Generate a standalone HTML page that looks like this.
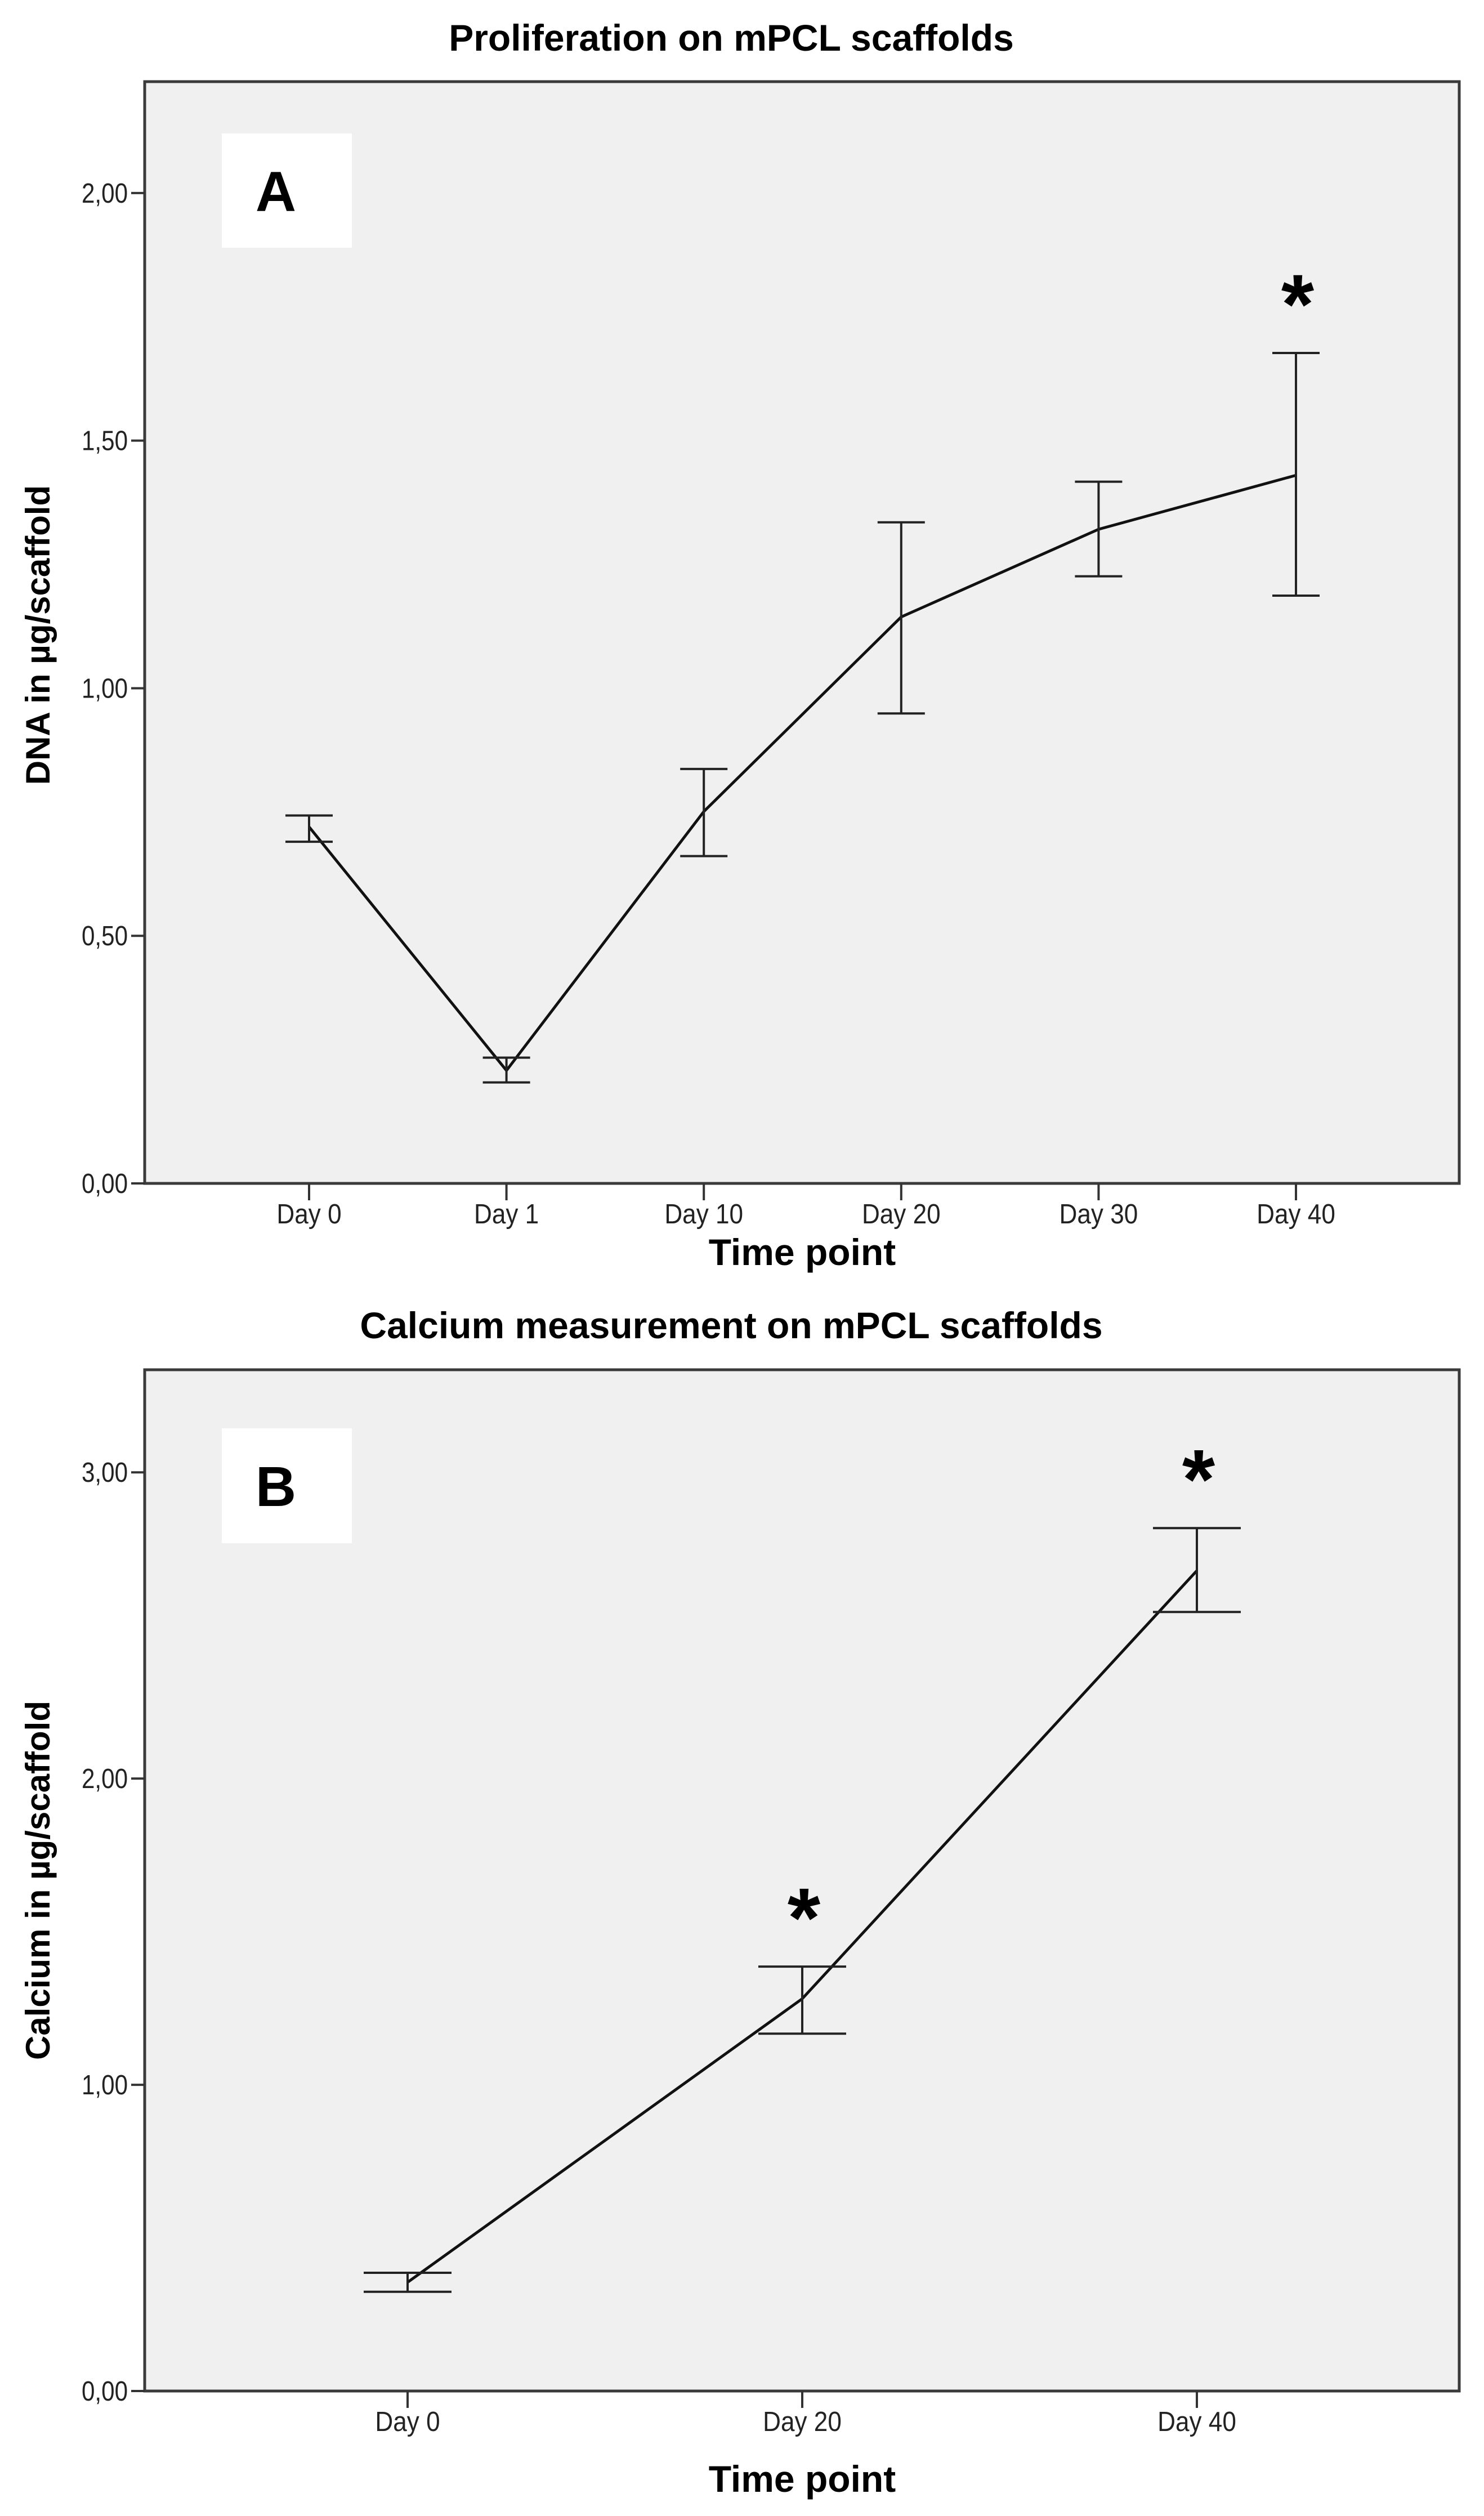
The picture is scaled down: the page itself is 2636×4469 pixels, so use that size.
<!DOCTYPE html>
<html><head><meta charset="utf-8"><style>
html,body{margin:0;padding:0;background:#fff;}
svg{display:block;font-family:"Liberation Sans",Arial,sans-serif;}
</style></head>
<body>
<svg id="fig" width="2636" height="4469" viewBox="0 0 2636 4469" xmlns="http://www.w3.org/2000/svg">
<rect x="0" y="0" width="2636" height="4469" fill="#fff"/>
</svg>
<script>
// Chart A data
const catsA = ["Day 0","Day 1","Day 10","Day 20","Day 30","Day 40"];
const meanA = [0.720,0.228,0.751,1.144,1.321,1.430];
const loA = [0.690,0.204,0.661,0.949,1.226,1.187];
const hiA = [0.743,0.254,0.837,1.335,1.417,1.677];
const ticksA = [0,0.5,1.0,1.5,2.0];
const tickLabelsA = ["0,00","0,50","1,00","1,50","2,00"];
const starsA = ["Day 40"];
// Chart B data
const catsB = ["Day 0","Day 20","Day 40"];
const meanB = [0.355,1.281,2.679];
const loB = [0.324,1.167,2.544];
const hiB = [0.386,1.386,2.818];
const ticksB = [0,1,2,3];
const tickLabelsB = ["0,00","1,00","2,00","3,00"];
const starsB = ["Day 20","Day 40"];

const NS="http://www.w3.org/2000/svg";
const svg=document.getElementById('fig');
function mk(tag,attrs,parent,text){const e=document.createElementNS(NS,tag);for(const k in attrs)e.setAttribute(k,attrs[k]);if(text!==undefined)e.textContent=text;(parent||svg).appendChild(e);return e;}

function chart(cfg){
  const g=mk('g',{});
  
  
  const L=257,R=2592,T=cfg.top,B=cfg.bottom;
  const y=v=>B-(v-0)*(B-T)/cfg.ymax;
  const x=i=>cfg.x0+i*cfg.step;
  // title
  const t=mk('text',{x:1299,y:cfg.titleY,'text-anchor':'middle','font-size':66,'font-weight':'bold',fill:'#000'},g,cfg.title);
  
  
  // plot background
  const bg=mk('rect',{x:L,y:T,width:R-L,height:B-T,fill:'#f0f0f0',stroke:'#3a3a3a','stroke-width':5},g);
  
  
  // panel label box
  const box=mk('rect',{x:394,y:cfg.boxY,width:231,height:cfg.boxH,fill:'#fff'},g);
  
  
  const pl=mk('text',{x:490,y:cfg.boxY+cfg.boxH/2+36,'text-anchor':'middle','font-size':100,'font-weight':'bold',fill:'#000'},g,cfg.panel);
  
  
  // y ticks
  cfg.ticks.forEach((v,i)=>{
    const tk=mk('line',{x1:233,x2:L,y1:y(v),y2:y(v),stroke:'#333','stroke-width':4},g);
    
    
    const lb=mk('text',{x:0,y:0,'text-anchor':'end','font-size':49,fill:'#222',transform:`translate(227,${y(v)+17}) scale(0.86,1)`},g,cfg.tickLabels[i]);
    
    
  });
  // x ticks
  cfg.cats.forEach((c,i)=>{
    const tk=mk('line',{x1:x(i),x2:x(i),y1:B,y2:B+30,stroke:'#333','stroke-width':4},g);
    
    
    const lb=mk('text',{x:0,y:0,'text-anchor':'middle','font-size':49,fill:'#222',transform:`translate(${x(i)},${B+71}) scale(0.9,1)`},g,c);
    
    
  });
  // axis titles
  const xt=mk('text',{x:1425,y:cfg.xTitleY,'text-anchor':'middle','font-size':66,'font-weight':'bold',fill:'#000'},g,'Time point');
  
  
  const yt=mk('text',{x:0,y:0,'text-anchor':'middle','font-size':60,'font-weight':'bold',fill:'#000',transform:`translate(88,${cfg.yTitleY}) rotate(-90)`},g,cfg.yTitle);
  
  
  // line
  const pts=cfg.mean.map((m,i)=>`${x(i)},${y(m)}`).join(' ');
  const ln=mk('polyline',{points:pts,fill:'none',stroke:'#111','stroke-width':5,'stroke-linejoin':'round'},g);
  
  
  // error bars
  cfg.mean.forEach((m,i)=>{
    const eg=mk('g',{stroke:'#222','stroke-width':4},g);
    
    
    mk('line',{x1:x(i),x2:x(i),y1:y(cfg.lo[i]),y2:y(cfg.hi[i])},eg);
    mk('line',{x1:x(i)-cfg.cap,x2:x(i)+cfg.cap,y1:y(cfg.lo[i]),y2:y(cfg.lo[i])},eg);
    mk('line',{x1:x(i)-cfg.cap,x2:x(i)+cfg.cap,y1:y(cfg.hi[i]),y2:y(cfg.hi[i])},eg);
  });
  // significance stars
  cfg.stars.forEach(s=>{
    const i=cfg.cats.indexOf(s);
    const st=mk('text',{x:x(i)+3,y:y(cfg.hi[i])-cfg.starGap,'text-anchor':'middle','font-size':150,'font-weight':'bold',fill:'#000'},g,'*');
    
    
  });
}

chart({name:'chart-a-proliferation',title:'Proliferation on mPCL scaffolds',titleY:90,top:145,bottom:2102,ymax:2.225,
  x0:549,step:350.6,cats:catsA,mean:meanA,lo:loA,hi:hiA,ticks:ticksA,tickLabels:tickLabelsA,stars:starsA,
  panel:'A',boxY:237,boxH:203,xTitleY:2247,yTitle:'DNA in µg/scaffold',yTitleY:1128,cap:42,starGap:35});
chart({name:'chart-b-calcium',title:'Calcium measurement on mPCL scaffolds',titleY:2377,top:2433,bottom:4247,ymax:3.335,
  x0:724,step:701,cats:catsB,mean:meanB,lo:loB,hi:hiB,ticks:ticksB,tickLabels:tickLabelsB,stars:starsB,
  panel:'B',boxY:2537,boxH:204,xTitleY:4426,yTitle:'Calcium in µg/scaffold',yTitleY:3340,cap:78,starGap:35});
</script>
</body></html>
